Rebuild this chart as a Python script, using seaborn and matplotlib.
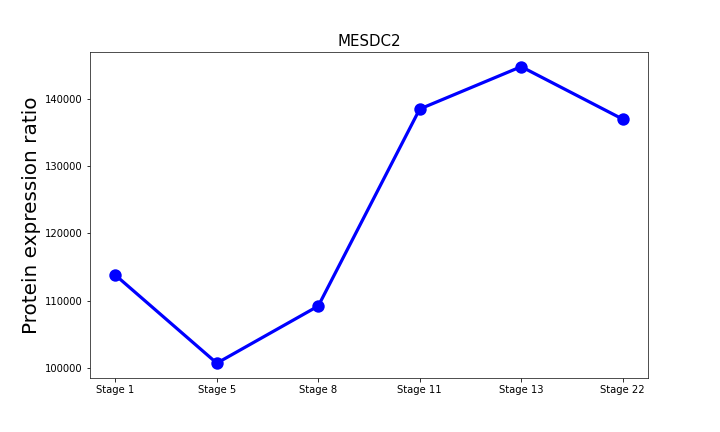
import matplotlib
matplotlib.use("Agg")
import matplotlib.pyplot as plt
import seaborn as sns
import pandas as pd

stages = ["Stage 1", "Stage 5", "Stage 8", "Stage 11", "Stage 13", "Stage 22"]
values = [113800, 100700, 109200, 138500, 144800, 137000]

sns.set_style("ticks")
plt.rcParams['font.family'] = ['DejaVu Sans']
plt.rcParams['text.color'] = 'black'
plt.rcParams['xtick.color'] = 'black'
plt.rcParams['ytick.color'] = 'black'
plt.rcParams['axes.labelcolor'] = 'black'

df = pd.DataFrame({"stage": stages, "value": values})

fig, ax = plt.subplots(figsize=(10, 6), dpi=72)
sns.pointplot(data=df, x="stage", y="value", color="blue", ax=ax,
              linewidth=3.2, markersize=10, errorbar=None)
ax.set_xlim(-0.25, len(stages) - 0.75)
ax.set_xlabel("")
ax.set_ylabel("Protein expression ratio", fontsize=20)
ax.set_title("MESDC2", fontsize=15)
ax.tick_params(labelsize=10)
fig.subplots_adjust(left=0.125, right=0.9, top=0.88, bottom=0.125)
fig.savefig("out.png", dpi=72)
